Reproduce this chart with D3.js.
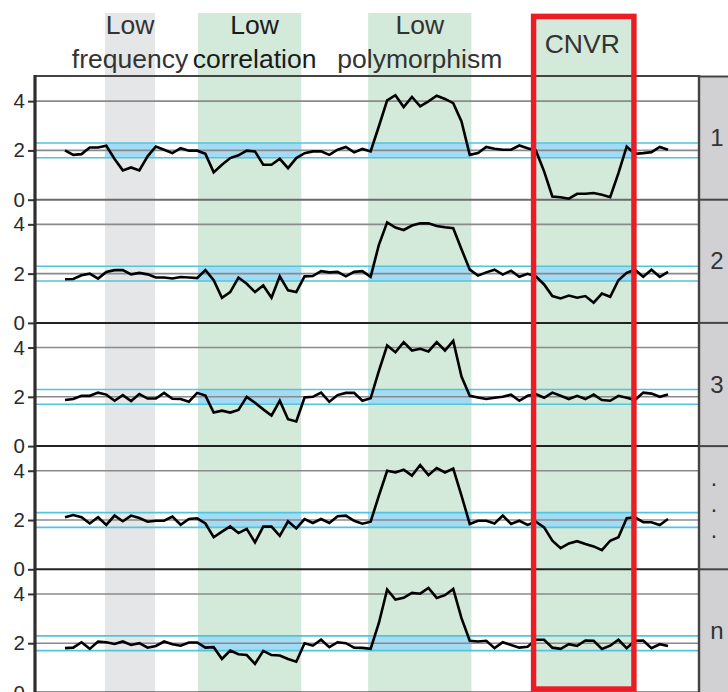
<!DOCTYPE html>
<html lang="en">
<head>
<meta charset="UTF-8">
<title>CNVR</title>
<script src="https://d3js.org/d3.v7.min.js"></script>
<style>
  body { margin: 0; background: #fff; }
  text { font-family: "Liberation Sans", Arial, sans-serif; }
</style>
</head>
<body>
<svg class="chart"></svg>
<script>
// sample copy-number values, one per probe position
const sample1 = [2.0,1.82,1.85,2.12,2.12,2.19,1.65,1.19,1.31,1.19,1.76,2.16,2.03,1.89,2.09,1.99,1.99,1.86,1.11,1.42,1.69,1.8,1.99,1.96,1.42,1.42,1.66,1.28,1.69,1.89,1.96,1.96,1.82,2.03,2.14,1.92,2.06,
  1.96,2.98,4.03,4.24,3.76,4.17,3.79,3.99,4.22,4.09,3.92,3.18,1.82,1.89,2.14,2.07,2.03,2.03,2.2,2.09,2.0,1.15,0.13,0.1,0.04,0.24,0.24,0.27,0.2,0.1,1.08,2.16,1.86,1.89,1.93,2.14,2.03]
const sample2 = [1.77,1.78,1.93,2.0,1.8,2.07,2.14,2.14,1.97,2.03,1.97,1.84,1.84,1.8,1.86,1.84,1.82,2.14,1.73,1.02,1.25,1.84,1.59,1.25,1.52,1.02,1.89,1.32,1.25,1.89,1.9,2.1,2.05,2.07,1.89,2.07,2.1,
  1.87,3.17,4.08,3.87,3.77,3.95,4.04,4.04,3.93,3.88,3.84,2.99,2.16,1.92,2.05,2.16,1.96,2.12,1.87,1.99,1.89,1.56,1.09,0.99,1.11,1.02,1.09,0.82,1.19,1.06,1.73,2.03,2.16,1.87,2.16,1.87,2.07]
const sample3 = [1.87,1.91,2.04,2.04,2.17,2.09,1.84,2.07,1.83,2.11,1.93,1.93,2.16,1.92,1.91,1.8,2.16,2.05,1.36,1.44,1.36,1.47,2.0,1.76,1.49,1.24,1.84,1.09,1.0,1.97,2.0,2.17,1.8,2.07,2.16,2.16,1.84,
  1.94,3.05,4.08,3.81,4.22,3.88,3.95,3.84,4.22,3.88,4.27,2.82,2.04,1.97,1.91,1.96,2.0,2.09,1.84,2.04,2.11,1.96,2.17,2.04,1.91,2.04,1.91,2.09,1.87,1.84,2.04,1.96,1.87,2.17,2.13,2.0,2.09]
const sample4 = [2.11,2.2,2.11,1.86,2.11,1.8,2.18,1.95,2.18,2.08,1.93,1.97,1.97,2.14,1.81,2.04,2.07,1.86,1.3,1.53,1.74,1.47,1.64,1.09,1.73,1.73,1.36,1.95,1.66,2.04,1.88,2.04,1.88,2.15,2.18,1.97,1.85,
  1.93,2.99,4.0,3.93,4.04,3.8,4.23,3.82,4.11,3.93,4.09,2.99,1.84,1.97,1.97,1.86,2.18,1.84,1.97,1.8,1.93,1.7,1.16,0.86,1.05,1.14,1.03,0.93,0.78,1.16,1.3,2.07,2.11,1.91,1.91,1.8,2.04]
const sampleN = [1.8,1.82,2.04,1.77,2.07,2.04,1.97,2.07,1.93,2.0,1.82,1.89,2.07,1.96,1.9,2.03,2.03,1.82,1.84,1.36,1.7,1.55,1.52,1.16,1.69,1.52,1.5,1.36,1.25,2.0,1.9,2.14,1.84,2.04,2.0,1.82,1.81,
  1.77,2.82,4.18,3.77,3.84,4.04,4.01,4.24,3.84,3.95,4.2,3.02,2.1,2.07,2.1,1.8,2.04,1.93,1.82,1.86,2.14,2.14,1.82,1.77,1.96,1.89,2.11,2.1,1.77,1.9,2.14,1.8,2.1,2.11,1.8,1.96,1.89]

const samples = [sample1, sample2, sample3, sample4, sampleN]
const stripLabels = ['1', '2', '3', '...', 'n']
const yTicks = [0, 2, 4]
const normalBand = [1.7, 2.3]

// filter regions along the probe index
const regionNames = ['freq', 'corr', 'poly', 'cnvr']
const regionStart = [4.84, 16.1, 36.7, 56.4]
const regionEnd = [10.9, 28.6, 49.2, 69.2]
const regionTitles = [['Low', 'frequency'], ['Low', 'correlation'], ['Low', 'polymorphism'], ['CNVR']]
// which regions are highlighted blue for each sample
const highlighted = [
  ['freq', 'corr', 'poly', 'cnvr'],
  ['corr', 'poly', 'cnvr'],
  ['corr', 'poly'],
  ['corr', 'poly', 'cnvr'],
  ['corr', 'poly']
]

const W = 728, H = 692
const plotL = 35, plotR = 699, plotT = 76.5, panelH = 123.2
const svg = d3.select('.chart').attr('width', W).attr('height', H)

const x = d3.scaleLinear().domain([0, 73]).range([65, 668])

// vertical bands
const bandColor = ['#e5e6e8', '#d3e9d9', '#d3e9d9', '#d3e9d9']
svg.selectAll('rect.band').data(regionNames).join('rect')
  .attr('class', 'band')
  .attr('x', (d, i) => x(regionStart[i]))
  .attr('width', (d, i) => x(regionEnd[i]) - x(regionStart[i]))
  .attr('y', 13).attr('height', H - 13)
  .attr('fill', (d, i) => bandColor[i])

// titles
regionTitles.forEach((lines, i) => {
  const cx = (x(regionStart[i]) + x(regionEnd[i])) / 2 + (i == 1 ? 5 : 0) - (i == 3 ? 1.5 : 0)
  const t = svg.append('text')
    .attr('text-anchor', 'middle')
    .attr('font-size', 26.5)
    .attr('fill', i == 1 ? '#1a1a1a' : '#333')
  if (lines.length == 1) {
    t.append('tspan').attr('x', cx).attr('y', 53).text(lines[0])
  } else {
    t.append('tspan').attr('x', cx).attr('y', 34).text(lines[0])
    t.append('tspan').attr('x', cx).attr('y', 68).text(lines[1])
  }
})

// right strip
svg.append('rect').attr('x', plotR).attr('y', plotT).attr('width', W - plotR).attr('height', H - plotT)
  .attr('fill', '#d1d1d3')

const line = d3.line().x((d, i) => x(i))

samples.forEach((vals, k) => {
  const y0 = plotT + panelH * k
  const y = d3.scaleLinear().domain([0, 5]).range([y0 + panelH, y0])
  const g = svg.append('g')

  // highlighted normal range
  regionNames.forEach((r, i) => {
    if (!highlighted[k].includes(r)) return
    g.append('rect')
      .attr('x', x(regionStart[i])).attr('width', x(regionEnd[i]) - x(regionStart[i]))
      .attr('y', y(normalBand[1])).attr('height', y(normalBand[0]) - y(normalBand[1]))
      .attr('fill', '#a3dbf4')
  })

  g.selectAll('line.grid').data(yTicks).join('line')
    .attr('x1', plotL).attr('x2', plotR)
    .attr('y1', d => y(d)).attr('y2', d => y(d))
    .attr('stroke', d => d == 0 ? (k == 0 ? '#6a6a6a' : '#222') : '#8a8a8a')
    .attr('stroke-width', d => d == 0 ? 2 : 1.6)

  g.selectAll('line.cyan').data(normalBand).join('line')
    .attr('x1', plotL).attr('x2', plotR)
    .attr('y1', d => y(d)).attr('y2', d => y(d))
    .attr('stroke', '#52c5da').attr('stroke-width', 1.6)

  const axis = d3.axisLeft(y).tickValues(yTicks).tickFormat(d3.format('d')).tickSize(7).tickPadding(3)
  const ag = g.append('g').attr('transform', `translate(${plotL},0)`).call(axis)
  ag.select('.domain').remove()
  ag.selectAll('.tick line').attr('stroke', '#333').attr('stroke-width', 2)
  ag.selectAll('.tick text').attr('font-size', 20.5).attr('fill', '#2a2a2a')
    .attr('font-family', '"Liberation Sans", Arial, sans-serif')

  g.append('path')
    .attr('d', line.y(d => y(d))(vals))
    .attr('fill', 'none').attr('stroke', '#000').attr('stroke-width', 2.6)
    .attr('stroke-linejoin', 'miter')

  // strip separators and label
  g.append('line').attr('x1', plotR).attr('x2', W).attr('y1', y0).attr('y2', y0)
    .attr('stroke', '#444').attr('stroke-width', 2)
  const cy = y0 + panelH / 2
  if (stripLabels[k] == '...') {
    const dots = g.append('text').attr('text-anchor', 'middle').attr('font-size', 23).attr('fill', '#333')
    ;[-26, 0, 26].forEach(dy => dots.append('tspan').attr('x', 714).attr('y', cy + dy + 4).text('.'))
  } else {
    g.append('text').attr('x', 717).attr('y', cy + 8).attr('text-anchor', 'middle')
      .attr('font-size', 24).attr('fill', '#333').text(stripLabels[k])
  }
})

// frame
svg.append('line').attr('x1', plotL).attr('x2', plotR).attr('y1', plotT - 0.5).attr('y2', plotT - 0.5)
  .attr('stroke', '#444').attr('stroke-width', 2)
svg.append('line').attr('x1', plotL).attr('x2', plotL).attr('y1', plotT - 1.5).attr('y2', H)
  .attr('stroke', '#2e2e2e').attr('stroke-width', 3.2)
svg.append('line').attr('x1', plotR).attr('x2', plotR).attr('y1', plotT - 1.5).attr('y2', H)
  .attr('stroke', '#444').attr('stroke-width', 2.4)

// CNVR outline
const ci = regionNames.indexOf('cnvr')
svg.append('rect')
  .attr('x', x(regionStart[ci]) + 2.7).attr('width', x(regionEnd[ci]) - x(regionStart[ci]) - 5.4)
  .attr('y', 16.5).attr('height', H - 16.5 - 3)
  .attr('fill', 'none').attr('stroke', '#ec1c24').attr('stroke-width', 5.4)
</script>
</body>
</html>
